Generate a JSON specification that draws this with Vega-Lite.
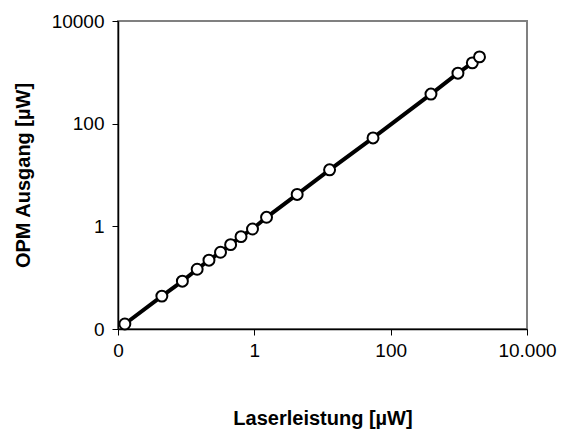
{
  "$schema": "https://vega.github.io/schema/vega-lite/v6.json",
  "width": 409,
  "height": 308,
  "autosize": {"type": "none"},
  "padding": {"left": 118, "top": 21, "right": 36, "bottom": 113},
  "config": {
    "font": "Liberation Sans",
    "view": {"stroke": "#808080", "strokeWidth": 2},
    "axis": {"grid": false, "domainColor": "#000000", "domainWidth": 1.5, "tickColor": "#000000", "tickSize": 6, "tickWidth": 1, "labelColor": "#000000", "labelFont": "Liberation Sans", "labelFontSize": 19, "titleFont": "Liberation Sans", "titleFontSize": 20, "titleFontWeight": "bold", "titleColor": "#000000"}
  },
  "data": {
    "values": [
      {"laser": 0.0126, "opm": 0.0125},
      {"laser": 0.044, "opm": 0.0437},
      {"laser": 0.088, "opm": 0.0855},
      {"laser": 0.145, "opm": 0.146},
      {"laser": 0.216, "opm": 0.219},
      {"laser": 0.319, "opm": 0.313},
      {"laser": 0.449, "opm": 0.44},
      {"laser": 0.638, "opm": 0.63},
      {"laser": 0.94, "opm": 0.887},
      {"laser": 1.51, "opm": 1.5},
      {"laser": 4.25, "opm": 4.18},
      {"laser": 12.7, "opm": 12.6},
      {"laser": 55.1, "opm": 52.7},
      {"laser": 390, "opm": 377},
      {"laser": 970, "opm": 964},
      {"laser": 1578, "opm": 1530},
      {"laser": 2010, "opm": 2000}
    ]
  },
  "encoding": {
    "x": {
      "field": "laser", "type": "quantitative",
      "scale": {"type": "log", "domain": [0.01, 10000], "nice": false},
      "axis": {"values": [0.01, 1, 100, 10000], "labelExpr": "datum.value == 0.01 ? '0' : datum.value == 10000 ? '10.000' : format(datum.value, 'd')", "title": "Laserleistung [µW]", "titlePadding": 48, "labelPadding": 6, "labelFlush": false}
    },
    "y": {
      "field": "opm", "type": "quantitative",
      "scale": {"type": "log", "domain": [0.01, 10000], "nice": false},
      "axis": {"values": [0.01, 1, 100, 10000], "labelExpr": "datum.value == 0.01 ? '0' : format(datum.value, 'd')", "title": "OPM Ausgang [µW]", "titlePadding": 18, "labelPadding": 8, "labelFlush": false}
    }
  },
  "layer": [
    {"mark": {"type": "line", "color": "#000000", "strokeWidth": 4}},
    {"mark": {"type": "point", "shape": "circle", "filled": true, "fill": "#ffffff", "stroke": "#000000", "strokeWidth": 2, "size": 120, "opacity": 1}}
  ]
}
